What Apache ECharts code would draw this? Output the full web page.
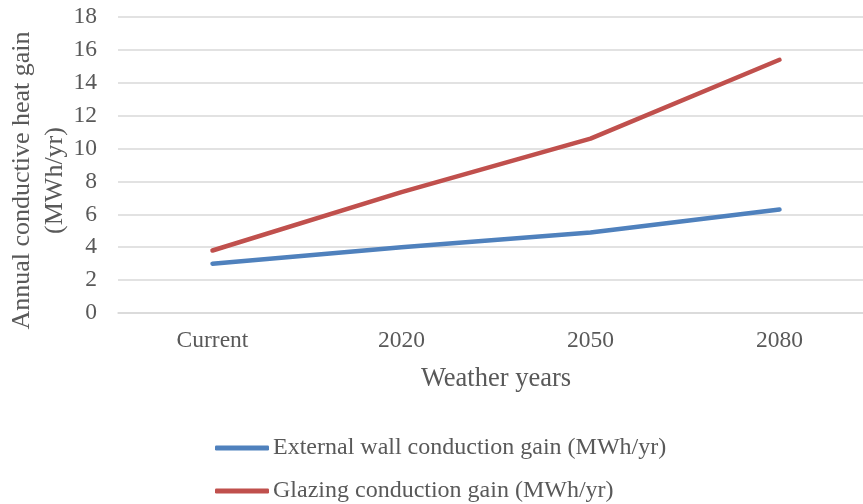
<!DOCTYPE html>
<html>
<head>
<meta charset="utf-8">
<script src="https://cdn.jsdelivr.net/npm/echarts@6/dist/echarts.min.js"></script>
<style>html,body{margin:0;padding:0;background:#fff}#c{width:863px;height:504px}</style>
</head>
<body>
<div id="c"></div>
<script>
var categories = ['Current', '2020', '2050', '2080'];
var wallGain = [3.0, 4.0, 4.9, 6.3];
var glazingGain = [3.8, 7.35, 10.6, 15.4];
var seriesNames = ['External wall conduction gain (MWh/yr)', 'Glazing conduction gain (MWh/yr)'];
var yTicks = { min: 0, max: 18, interval: 2 };

var font = 'Liberation Serif';
var txt = '#595959';
var chart = echarts.init(document.getElementById('c'), null, { renderer: 'canvas' });
function legendOf(name, top) {
  return {
    data: [{ name: name, icon: 'roundRect' }],
    left: 210, top: top, orient: 'vertical',
    itemWidth: 54, itemHeight: 5, itemGap: 0,
    textStyle: { fontFamily: font, fontSize: 24, color: txt, padding: [0, 0, 0, -1] },
    selectedMode: false
  };
}
chart.setOption({
  animation: false,
  grid: { left: 118, top: 17, width: 756, height: 296, containLabel: false, outerBoundsMode: 'none' },
  legend: [legendOf(seriesNames[0], 431), legendOf(seriesNames[1], 474)],
  xAxis: {
    type: 'category', data: categories, boundaryGap: true,
    name: 'Weather years', nameLocation: 'middle', nameGap: 53, nameMoveOverlap: false,
    nameTextStyle: { fontFamily: font, fontSize: 26.5, color: txt },
    axisLine: { show: true, lineStyle: { color: '#d9d9d9', width: 1.5 } },
    axisTick: { show: false },
    axisLabel: { fontFamily: font, fontSize: 23.5, color: txt, margin: 16 },
    splitLine: { show: false }
  },
  yAxis: {
    type: 'value', min: yTicks.min, max: yTicks.max, interval: yTicks.interval,
    name: 'Annual conductive heat gain\n(MWh/yr)', nameLocation: 'middle', nameGap: 46, nameMoveOverlap: false,
    nameTextStyle: { fontFamily: font, fontSize: 26, color: txt, lineHeight: 33, padding: [0, 31, 0, 0] },
    axisLine: { show: false }, axisTick: { show: false },
    axisLabel: { fontFamily: font, fontSize: 23.5, color: txt, margin: 21 },
    splitLine: { lineStyle: { color: '#d9d9d9', width: 1.5 } }
  },
  series: [
    { name: seriesNames[0], type: 'line', data: wallGain, symbol: 'none',
      lineStyle: { color: '#4f81bd', width: 4.5, cap: 'round', join: 'round' }, itemStyle: { color: '#4f81bd' } },
    { name: seriesNames[1], type: 'line', data: glazingGain, symbol: 'none',
      lineStyle: { color: '#c0504d', width: 4.5, cap: 'round', join: 'round' }, itemStyle: { color: '#c0504d' } }
  ]
});
</script>
</body>
</html>
